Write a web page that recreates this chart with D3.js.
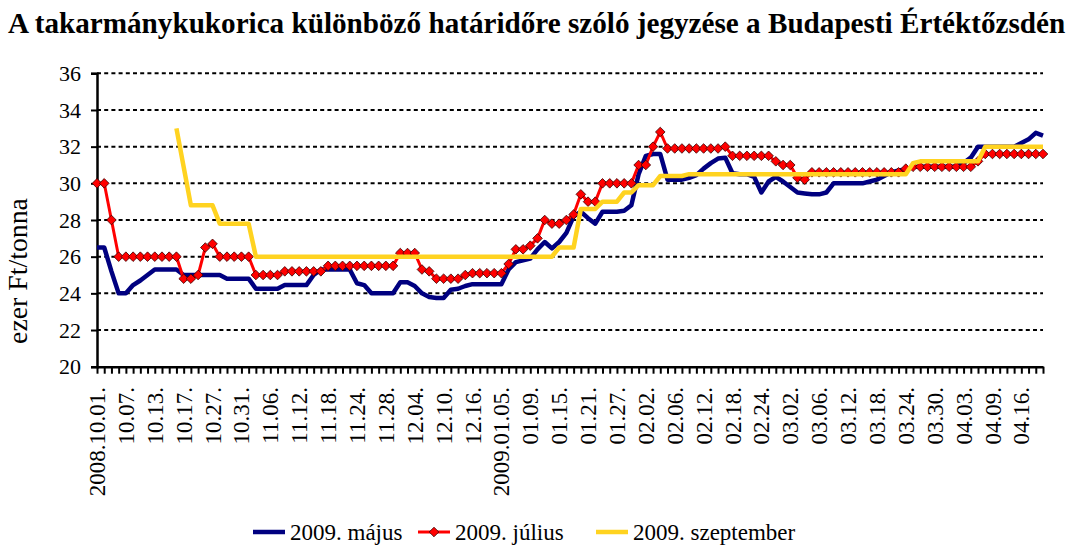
<!DOCTYPE html>
<html>
<head>
<meta charset="utf-8">
<script src="https://cdn.jsdelivr.net/npm/d3@7"></script>
<style>
  html, body { margin: 0; padding: 0; background: #fff; }
  svg { display: block; }
</style>
</head>
<body>
<svg id="chart" width="1072" height="548"></svg>
<script>
// ---- data ----
const titleText = "A takarmánykukorica különböző határidőre szóló jegyzése a Budapesti Értéktőzsdén";
const yAxisTitle = "ezer Ft/tonna";
const yTicks = [20, 22, 24, 26, 28, 30, 32, 34, 36];
const tickLabels = ["2008.10.01.", "10.07.", "10.13.", "10.17.", "10.27.", "10.31.", "11.06.", "11.12.",
  "11.18.", "11.24.", "11.28.", "12.04.", "12.10.", "12.16.", "2009.01.05.", "01.09.", "01.15.",
  "01.21.", "01.27.", "02.02.", "02.06.", "02.12.", "02.18.", "02.24.", "03.02.", "03.06.", "03.12.",
  "03.18.", "03.24.", "03.30.", "04.03.", "04.09.", "04.16."];
const labelEvery = 4;          // one label every 4 trading days
const seriesNames = ["2009. május", "2009. július", "2009. szeptember"];

const majus = [
  26.5, 26.5, 25.2, 24.0, 24.0, 24.45, 24.7, 25.0, 25.3, 25.3, 25.3, 25.3,
  25.0, 25.0, 25.0, 25.0, 25.0, 25.0, 24.8, 24.8, 24.8, 24.8,
  24.25, 24.25, 24.25, 24.25, 24.45, 24.45, 24.45, 24.45, 25.0, 25.3, 25.3, 25.3, 25.3, 25.3,
  24.55, 24.45, 24.0, 24.0, 24.0, 24.0, 24.6, 24.6, 24.4, 24.0, 23.8, 23.75, 23.75, 24.2,
  24.25, 24.4, 24.5, 24.5, 24.5, 24.5, 24.5, 25.3, 25.7, 25.8, 25.9, 26.4, 26.8, 26.45,
  26.8, 27.3, 28.2, 28.45, 28.1, 27.8, 28.45, 28.45, 28.45, 28.5, 28.8, 30.5, 31.5, 31.6,
  31.6, 30.2, 30.2, 30.2, 30.3, 30.45, 30.8, 31.1, 31.35, 31.4, 30.55, 30.5, 30.5, 30.35,
  29.5, 30.1, 30.35, 30.1, 29.8, 29.5, 29.45, 29.4, 29.4, 29.5, 30.0, 30.0, 30.0, 30.0,
  30.0, 30.1, 30.2, 30.4, 30.6, 30.7, 30.75, 30.9, 30.9, 30.9, 30.9, 30.9, 30.9, 30.9,
  31.1, 31.4, 32.0, 32.0, 32.0, 32.0, 32.0, 32.0, 32.2, 32.4, 32.75, 32.6
];
const julius = [
  30.0, 30.0, 28.0, 26.0, 26.0, 26.0, 26.0, 26.0, 26.0, 26.0, 26.0, 26.0,
  24.8, 24.8, 25.0, 26.5, 26.7, 26.0, 26.0, 26.0, 26.0, 26.0,
  25.0, 25.0, 25.0, 25.0, 25.2, 25.2, 25.2, 25.2, 25.2, 25.2,
  25.5, 25.5, 25.5, 25.5, 25.5, 25.5, 25.5, 25.5, 25.5, 25.5,
  26.2, 26.2, 26.2, 25.3, 25.2, 24.8, 24.8, 24.8, 24.8, 25.0,
  25.1, 25.1, 25.1, 25.1, 25.1, 25.6, 26.4, 26.4, 26.6, 27.0,
  28.0, 27.8, 27.8, 28.0, 28.3, 29.4, 29.0, 29.0, 30.0, 30.0,
  30.0, 30.0, 30.0, 31.0, 31.0, 32.0, 32.8, 31.9, 31.9, 31.9,
  31.9, 31.9, 31.9, 31.9, 31.9, 32.0, 31.5, 31.5, 31.5, 31.5,
  31.5, 31.5, 31.2, 31.0, 31.0, 30.3, 30.2, 30.6, 30.6, 30.6,
  30.6, 30.6, 30.6, 30.6, 30.6, 30.6, 30.6, 30.6, 30.6, 30.6,
  30.8, 30.9, 30.9, 30.9, 30.9, 30.9, 30.9, 30.9, 30.9, 30.9,
  31.2, 31.6, 31.6, 31.6, 31.6, 31.6, 31.6, 31.6, 31.6, 31.6
];
const szeptember = [
  null, null, null, null, null, null, null, null, null, null, null,
  33.0, 30.9, 28.8, 28.8, 28.8, 28.8, 27.8, 27.8, 27.8, 27.8, 27.8,
  26.0, 26.0, 26.0, 26.0, 26.0, 26.0, 26.0, 26.0, 26.0, 26.0,
  26.0, 26.0, 26.0, 26.0, 26.0, 26.0, 26.0, 26.0, 26.0, 26.0,
  26.0, 26.0, 26.0, 26.0, 26.0, 26.0, 26.0, 26.0, 26.0, 26.0,
  26.0, 26.0, 26.0, 26.0, 26.0, 26.0, 26.0, 26.0, 26.0, 26.0,
  26.0, 26.0, 26.5, 26.5, 26.5, 28.6, 28.6, 28.6, 29.0, 29.0,
  29.0, 29.5, 29.5, 29.9, 29.9, 29.9, 30.4, 30.4, 30.4, 30.4,
  30.5, 30.5, 30.5, 30.5, 30.5, 30.5, 30.5, 30.5, 30.5, 30.5,
  30.5, 30.5, 30.5, 30.5, 30.5, 30.5, 30.5, 30.5, 30.5, 30.5,
  30.5, 30.5, 30.5, 30.5, 30.5, 30.5, 30.5, 30.5, 30.5, 30.5,
  30.5, 31.1, 31.2, 31.2, 31.2, 31.2, 31.2, 31.2, 31.2, 31.2,
  31.2, 32.0, 32.0, 32.0, 32.0, 32.0, 32.0, 32.0, 32.0, 32.0
];

// ---- layout ----
const FONT = "'Liberation Serif', 'Times New Roman', serif";
const svg = d3.select("#chart");
const plotL = 97, plotR = 1043, plotT = 73.3, plotB = 366.7;
const N = julius.length;
const x = d3.scaleLinear().domain([0, N - 1]).range([plotL, plotR]);
const y = d3.scaleLinear().domain([20, 36]).range([plotB, plotT]);

// fit a text element's width to a target by adjusting font size
function fitWidth(sel, baseSize, target) {
  sel.attr("font-size", baseSize);
  const w = sel.node().getComputedTextLength();
  sel.attr("font-size", baseSize * target / w);
}

// title
const title = svg.append("text")
  .attr("x", 8).attr("y", 33)
  .attr("font-family", FONT)
  .attr("font-weight", "bold")
  .text(titleText);
fitWidth(title, 22, 1058);

// gridlines (dotted)
svg.append("g").selectAll("line")
  .data(yTicks.filter(d => d > 20))
  .join("line")
  .attr("x1", plotL).attr("x2", plotR)
  .attr("y1", d => y(d)).attr("y2", d => y(d))
  .attr("stroke", "#000").attr("stroke-width", 2)
  .attr("stroke-dasharray", "4,3.2");

// y axis
const yAxis = svg.append("g")
  .attr("transform", `translate(${plotL},0)`)
  .attr("font-family", FONT)
  .call(d3.axisLeft(y).tickValues(yTicks).tickSize(6).tickPadding(10).tickFormat(d3.format("d")));
yAxis.attr("font-family", FONT).attr("font-size", 22);
yAxis.select(".domain").attr("stroke", "#000").attr("stroke-width", 2.5);
yAxis.selectAll(".tick line").attr("stroke", "#000").attr("stroke-width", 2);
yAxis.selectAll(".tick text")
  .attr("font-family", FONT).attr("font-size", 22).attr("fill", "#000");

// y axis title
const yt = svg.append("text")
  .attr("transform", "translate(27,271) rotate(-90)")
  .attr("text-anchor", "middle")
  .attr("font-family", FONT)
  .text(yAxisTitle);
fitWidth(yt, 22, 146);

// x axis
const xAxis = svg.append("g")
  .attr("transform", `translate(0,${plotB})`)
  .call(d3.axisBottom(x).tickValues(d3.range(N)).tickSize(7).tickSizeOuter(0).tickFormat(""));
xAxis.select(".domain").attr("stroke", "#000").attr("stroke-width", 2.5);
xAxis.selectAll(".tick line").attr("stroke", "#000").attr("stroke-width", 2);

// x labels
svg.append("g").selectAll("text")
  .data(tickLabels)
  .join("text")
  .attr("transform", (d, i) => `translate(${x(i * labelEvery)},387) rotate(-90)`)
  .attr("text-anchor", "end")
  .attr("dy", "0.35em")
  .attr("font-family", FONT)
  .attr("font-size", 23)
  .attr("fill", "#000")
  .text(d => d);

// series
const line = d3.line()
  .defined(d => d != null)
  .x((d, i) => x(i))
  .y(d => y(d));

const colors = ["#000080", "#FF0000", "#FFD320"];

svg.append("path").datum(majus)
  .attr("d", line).attr("fill", "none")
  .attr("stroke", colors[0]).attr("stroke-width", 4.5).attr("stroke-linejoin", "round");

svg.append("path").datum(julius)
  .attr("d", line).attr("fill", "none")
  .attr("stroke", colors[1]).attr("stroke-width", 3).attr("stroke-linejoin", "round");

const diamond = r => `M0,${-r}L${r},0L0,${r}L${-r},0Z`;
svg.append("g").selectAll("path")
  .data(julius.map((v, i) => ({ v, i })))
  .join("path")
  .attr("transform", d => `translate(${x(d.i)},${y(d.v)})`)
  .attr("d", diamond(4.8))
  .attr("fill", colors[1]).attr("stroke", "#3a0000").attr("stroke-width", 0.8);

svg.append("path").datum(szeptember)
  .attr("d", line).attr("fill", "none")
  .attr("stroke", colors[2]).attr("stroke-width", 4.5).attr("stroke-linejoin", "round");

// legend
const legendItems = [
  { name: seriesNames[0], color: colors[0], x: 253, marker: false, w: 4.5, tw: 118 },
  { name: seriesNames[1], color: colors[1], x: 418, marker: true, w: 3, tw: 123 },
  { name: seriesNames[2], color: colors[2], x: 596, marker: false, w: 4.5, tw: 174 }
];
const ly = 532;
const lg = svg.append("g");
legendItems.forEach(it => {
  lg.append("line")
    .attr("x1", it.x).attr("x2", it.x + 32)
    .attr("y1", ly).attr("y2", ly)
    .attr("stroke", it.color).attr("stroke-width", it.w);
  if (it.marker) {
    lg.append("path")
      .attr("transform", `translate(${it.x + 16},${ly})`)
      .attr("d", diamond(4.8))
      .attr("fill", it.color).attr("stroke", "#3a0000").attr("stroke-width", 0.8);
  }
  lg.append("text")
    .attr("x", it.x + 37).attr("y", ly)
    .attr("dy", "0.35em")
    .attr("font-family", FONT)
    .attr("font-size", 23)
    .attr("fill", "#000")
    .text(it.name);
});
</script>
</body>
</html>
